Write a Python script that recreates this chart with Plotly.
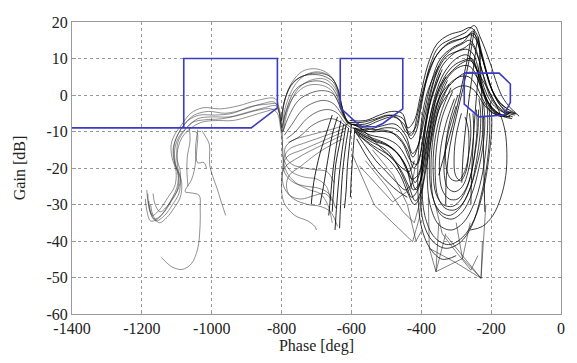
import plotly.graph_objects as go

# ---------------- axis ticks ----------------
phase_ticks = [-1400, -1200, -1000, -800, -600, -400, -200, 0]
gain_ticks = [-60, -50, -40, -30, -20, -10, 0, 10, 20]

# ---------------- blue boundary lines (phase, gain) ----------------
bound_left = [(-1400, -9), (-887, -9), (-812, -3.5), (-812, 10), (-1080, 10), (-1080, -9)]
bound_mid = [(-632, -3.5), (-632, 10), (-453, 10), (-453, -3.8), (-510, -7.8), (-530, -8.7),
             (-570, -8.7), (-590, -7.2), (-632, -3.5)]
bound_right = [(-277, 6), (-177, 6), (-145, 3), (-145, -2), (-163, -5.5), (-235, -6),
               (-277, -2.5), (-277, 6)]

# ---------------- black response curves (phase, gain) ----------------
left_bundle = [
    [(-1183,-27),(-1178,-31.5),(-1165,-34),(-1140,-32.5),(-1115,-29),(-1098,-26),(-1095,-22),(-1108,-18),(-1110,-14.5),(-1098,-11),(-1078,-8),(-1050,-5.5),(-1010,-4.5),(-960,-5),(-910,-4),(-860,-2.5),(-820,-2),(-806,-5),(-800,-9),(-788,-3),(-760,3),(-725,5.8),(-690,6.3),(-660,5),(-640,2),(-628,-3),(-615,-7),(-600,-8)],
    [(-1180,-29),(-1175,-32),(-1160,-34.5),(-1135,-33),(-1112,-30),(-1094,-27),(-1090,-23),(-1103,-19),(-1106,-15),(-1094,-11.5),(-1072,-9),(-1040,-6.5),(-1000,-6),(-950,-6),(-900,-4.8),(-850,-3.5),(-815,-3),(-803,-7),(-797,-10),(-782,-4),(-750,2),(-712,4.2),(-675,4.3),(-648,2),(-630,-2.5),(-615,-6.5),(-602,-8)],
    [(-1186,-26),(-1181,-30),(-1170,-33),(-1150,-31.5),(-1125,-28),(-1106,-25),(-1102,-21),(-1114,-17),(-1116,-13.5),(-1104,-10.5),(-1085,-8),(-1060,-5),(-1025,-3.5),(-975,-3.8),(-925,-3),(-870,-1.5),(-818,-1),(-806,-4),(-800,-7),(-792,-2),(-770,3.5),(-740,6.5),(-705,7.2),(-672,6.2),(-650,4),(-634,0),(-622,-5),(-608,-8)],
    [(-1175,-30),(-1168,-33),(-1150,-35),(-1128,-33.5),(-1108,-31),(-1090,-28),(-1086,-24),(-1097,-20),(-1099,-16),(-1087,-12),(-1065,-9.5),(-1030,-7.5),(-990,-7),(-940,-7),(-890,-5.8),(-845,-4.5),(-812,-4),(-801,-8),(-797,-12),(-798,-16),(-786,-21),(-760,-24),(-720,-26),(-690,-27),(-668,-30),(-655,-35)],
    [(-1168,-27),(-1162,-30),(-1148,-32),(-1128,-30.5),(-1110,-28),(-1093,-25),(-1090,-21),(-1099,-17.5),(-1097,-13),(-1080,-10),(-1055,-7.5),(-1020,-6.8),(-970,-6.5),(-920,-5.5),(-870,-4.2),(-830,-3.8),(-812,-5),(-803,-9),(-798,-13),(-792,-18),(-772,-21),(-735,-22.5),(-700,-23),(-672,-25),(-660,-29)],
    [(-1190,-28.5),(-1186,-31.5),(-1175,-34.5),(-1155,-34),(-1130,-31),(-1112,-28),(-1100,-25.5),(-1096,-22),(-1106,-18.5),(-1108,-14),(-1092,-10),(-1068,-7),(-1035,-5.5),(-990,-5.5),(-940,-5),(-890,-3.2),(-840,-2.5),(-814,-2.5),(-805,-6),(-799,-10),(-788,-5),(-762,0),(-728,2.5),(-692,2.8),(-660,1.5),(-640,-1.5),(-625,-5.5),(-607,-8)],
]

left_singles = [
    [(-1040,-9.5),(-1046,-14),(-1047,-19),(-1057,-23),(-1076,-26.5),(-1060,-26.8),(-1036,-27.5),(-1033,-31),(-1034,-37),(-1040,-42),(-1058,-46.2),(-1085,-47.8),(-1115,-47),(-1144,-44.5)],
    [(-1028,-9.8),(-1020,-11),(-1007,-13.5),(-1006,-19),(-998,-22),(-985,-25.5),(-972,-29.5),(-960,-33)],
    [(-1064,-9),(-1062,-12.5),(-1070,-17),(-1071,-21),(-1068,-25)],
    [(-1048,-10),(-1041,-10.5),(-1041,-18.5),(-1022,-18.5),(-1015,-20)],
]

dome_curves = [
    [(-800,-7),(-790,-1),(-765,3.5),(-730,5.5),(-695,6),(-660,5),(-640,2),(-628,-3),(-615,-7),(-600,-8)],
    [(-798,-9),(-786,-4),(-760,1.5),(-725,3.5),(-690,3.8),(-660,2.5),(-640,-0.5),(-625,-5),(-605,-8)],
    [(-796,-10),(-780,-6),(-752,-1.5),(-718,0.5),(-685,1.2),(-655,0.5),(-635,-2.5),(-620,-6),(-600,-8.5)],
    [(-792,-11),(-770,-8),(-740,-4),(-705,-2),(-675,-1.5),(-650,-2.5),(-630,-5),(-610,-8)],
    [(-786,-12),(-760,-10),(-728,-6.5),(-695,-4.5),(-665,-4),(-640,-5),(-620,-7.5),(-600,-9)],
    [(-780,-13),(-750,-11.5),(-715,-8.5),(-685,-7),(-655,-6.5),(-630,-7.5),(-610,-9)],
    [(-802,-8),(-795,-3),(-775,2.5),(-745,5),(-712,5.6),(-680,5.2),(-652,3.5),(-636,0),(-625,-4),(-612,-7.5)],
]

arc_curves = [
    [(-610,-8),(-660,-9.5),(-720,-11),(-770,-12.5),(-790,-14.5),(-788,-17),(-770,-19),(-735,-20),(-700,-20.5),(-670,-21),(-650,-24)],
    [(-615,-9),(-670,-11),(-730,-13),(-780,-15),(-795,-18),(-790,-21.5),(-765,-24),(-730,-25),(-695,-25.5),(-665,-27),(-645,-31)],
    [(-620,-10),(-680,-12.5),(-740,-15),(-785,-17),(-798,-21),(-792,-25.5),(-765,-28.5),(-725,-30),(-690,-30.5),(-660,-32),(-640,-36)],
    [(-625,-11),(-690,-14),(-750,-17),(-792,-20),(-800,-25),(-793,-29.5),(-762,-33),(-725,-34.5),(-705,-36),(-700,-37)],
    [(-625,-12),(-690,-15.5),(-745,-19.5),(-778,-22),(-786,-25),(-776,-27.5),(-745,-28.5),(-705,-27.5),(-675,-27),(-655,-29)],
]

drop_curves = [
    [(-600,-8),(-605,-13),(-612,-20),(-615,-26),(-620,-31)],
    [(-615,-8),(-625,-14),(-635,-22),(-642,-30),(-647,-37)],
    [(-630,-7),(-640,-12),(-652,-20),(-660,-28),(-665,-33)],
    [(-590,-9),(-595,-15),(-600,-22),(-603,-28)],
    [(-640,-6),(-655,-11),(-668,-18),(-680,-25),(-690,-30)],
    [(-655,-5.5),(-670,-10),(-690,-16),(-708,-24),(-715,-30)],
    [(-608,-9),(-618,-15),(-626,-22),(-631,-30),(-634,-36.5)],
    [(-622,-8),(-633,-13),(-645,-19),(-651,-26),(-655,-32)],
]

main_loops = [
    [(-600,-8),(-560,-8.5),(-520,-7),(-480,-6),(-450,-8),(-430,-12),(-415,-10),(-400,-3),(-377,7.5),(-349,13.3),(-310,15.5),(-275,17),(-248,19),(-232,16),(-215,12),(-200,8),(-187,4),(-168,-0.5),(-145,-3.5),(-120,-5.8)],
    [(-598,-9),(-555,-9.5),(-515,-8.5),(-475,-8),(-445,-11),(-425,-16),(-410,-14),(-392,-5),(-370,4),(-345,10),(-310,13),(-280,14.5),(-255,17),(-240,15.5),(-225,10),(-210,5),(-195,1),(-175,-2),(-150,-4),(-130,-5)],
    [(-595,-8),(-550,-10),(-505,-10),(-470,-11),(-440,-15),(-422,-20),(-405,-17),(-388,-8),(-365,1.5),(-340,8),(-305,11.5),(-275,13),(-258,14),(-240,11),(-222,5),(-205,0),(-185,-3),(-160,-5),(-138,-6)],
    [(-590,-9),(-545,-11),(-500,-12),(-465,-14),(-435,-19),(-418,-24),(-400,-20),(-383,-10),(-360,0),(-335,6),(-300,10),(-270,11),(-250,9),(-232,4),(-215,-1),(-195,-4),(-170,-5.5),(-145,-6)],
    [(-605,-7),(-560,-7),(-520,-5.5),(-485,-4.5),(-455,-5),(-438,-9),(-420,-7),(-402,0),(-382,8),(-355,14),(-320,16.5),(-285,17.5),(-260,18.5),(-243,17),(-228,12),(-212,6),(-198,1.5),(-180,-2),(-158,-4.5),(-135,-5)],
    [(-585,-10),(-540,-12.5),(-495,-14),(-460,-17),(-432,-22),(-415,-26),(-397,-22),(-380,-13),(-356,-3),(-330,4),(-295,7.5),(-265,8),(-245,6),(-228,1.5),(-210,-2.5),(-188,-5),(-162,-6),(-140,-6.5)],
    [(-600,-8),(-565,-9),(-530,-9.5),(-490,-10),(-455,-13),(-430,-18),(-412,-19),(-396,-12),(-378,-2),(-356,6),(-328,10.5),(-295,12),(-268,12.5),(-250,11),(-236,7),(-220,2),(-200,-2),(-178,-4),(-155,-5),(-142,-4.5)],
    [(-594,-9),(-548,-11.5),(-508,-13),(-472,-15.5),(-446,-19),(-428,-23),(-410,-22),(-393,-15),(-372,-5),(-348,2),(-318,6),(-288,8.5),(-262,9.5),(-246,8),(-230,3),(-212,-1.5),(-192,-4),(-168,-5.5),(-148,-5)],
    [(-610,-7.5),(-570,-7.5),(-530,-6.5),(-495,-5.5),(-465,-6.5),(-445,-10),(-428,-11),(-410,-5),(-390,3),(-362,10),(-330,13.5),(-296,15),(-270,16),(-252,17.5),(-238,14),(-222,9),(-205,3),(-190,0),(-172,-2.5),(-150,-4)],
    [(-588,-9.5),(-545,-10),(-505,-9),(-468,-9.5),(-442,-13),(-424,-17),(-406,-13),(-390,-6),(-368,3),(-342,9.5),(-312,12.5),(-283,14),(-262,15),(-246,13),(-230,8),(-214,3),(-196,-1),(-176,-3.5),(-152,-5),(-132,-5.5)],
    [(-590,-10),(-540,-13),(-500,-15),(-470,-19),(-445,-24),(-428,-28),(-410,-26),(-392,-18),(-372,-8),(-350,-1),(-320,3),(-290,5),(-265,5),(-245,3),(-225,-1),(-205,-4),(-180,-5.5),(-155,-5.5)],
    [(-580,-11),(-530,-15),(-490,-18),(-460,-22),(-438,-27),(-420,-30),(-404,-28),(-386,-20),(-366,-10),(-345,-3),(-315,1),(-285,2.5),(-258,2),(-238,0),(-218,-3),(-195,-5),(-170,-6)],
    [(-603,-8),(-562,-8),(-522,-6.5),(-483,-5.5),(-452,-6.5),(-434,-10.5),(-417,-9),(-398,-1),(-378,6),(-352,11.5),(-318,14.5),(-282,15.5),(-257,16.5),(-242,15),(-226,10.5),(-210,5),(-194,0.5),(-176,-2.5),(-152,-4.5),(-128,-5.2)],
    [(-592,-9.5),(-546,-12),(-502,-13.5),(-468,-16),(-440,-21),(-423,-26),(-405,-24),(-388,-15),(-366,-4),(-342,3.5),(-308,8),(-278,9.5),(-255,10),(-240,7),(-224,2),(-206,-2.5),(-185,-5),(-160,-6)],
    [(-586,-10.5),(-536,-14),(-494,-16.5),(-462,-20),(-436,-25),(-417,-29),(-400,-26),(-384,-17),(-362,-7),(-338,0),(-305,4),(-275,6),(-250,6),(-232,3),(-214,-1),(-192,-4),(-168,-5.5),(-146,-6)],
]

oval_curves = [
    [(-330,5),(-360,-2),(-378,-12),(-383,-22),(-375,-30),(-350,-35.5),(-315,-37),(-280,-35),(-250,-30),(-228,-23),(-215,-15),(-210,-8),(-212,-3),(-220,0)],
    [(-320,3),(-350,-4),(-368,-13),(-372,-22),(-364,-29),(-342,-33),(-312,-34),(-282,-32),(-255,-27),(-235,-20),(-222,-13),(-218,-7),(-222,-2)],
    [(-310,1),(-340,-6),(-356,-14),(-360,-22),(-352,-28),(-332,-31),(-305,-31.5),(-280,-29.5),(-258,-25),(-242,-18),(-232,-11),(-230,-5),(-235,-1)],
    [(-305,-1),(-330,-8),(-345,-15),(-348,-21),(-340,-26),(-320,-28.5),(-296,-28.5),(-274,-26),(-256,-21),(-246,-15),(-240,-9),(-242,-4)],
    [(-300,-3),(-322,-10),(-333,-16),(-334,-22),(-324,-25.5),(-304,-26.5),(-282,-25),(-266,-21),(-256,-16),(-250,-10),(-252,-5)],
    [(-340,7),(-372,-1),(-392,-12),(-398,-24),(-390,-33),(-362,-39),(-322,-41),(-282,-39),(-248,-34),(-222,-26),(-205,-16),(-198,-8),(-202,-2)],
    [(-260,10),(-230,5),(-200,0),(-175,-5),(-160,-10),(-155,-16),(-158,-22),(-172,-28),(-195,-33),(-225,-36),(-260,-37)],
    [(-350,8),(-385,0),(-405,-12),(-410,-25),(-400,-36),(-375,-42),(-340,-45),(-300,-44)],
    [(-285,-5),(-300,-11),(-306,-17),(-302,-22),(-288,-23.5),(-272,-21),(-264,-15),(-266,-9),(-275,-6)],
    [(-345,6),(-376,-3),(-394,-14),(-402,-26),(-394,-35),(-368,-40),(-330,-42),(-290,-40.5),(-256,-36),(-230,-28),(-212,-19),(-204,-10),(-206,-3)],
    [(-325,4),(-355,-3),(-372,-12),(-377,-20),(-370,-27),(-350,-31.5),(-320,-33),(-290,-31),(-262,-26),(-240,-19),(-226,-12),(-222,-6)],
    [(-315,2),(-344,-5),(-362,-13),(-366,-21),(-358,-27),(-338,-30),(-310,-30.5),(-286,-28.5),(-264,-24),(-248,-17),(-238,-10),(-236,-4)],
    [(-295,0),(-318,-7),(-330,-14),(-328,-20),(-315,-23),(-295,-23.5),(-276,-21),(-264,-16),(-258,-10),(-262,-5)],
]

interior_curves = [
    [(-248,18),(-262,10),(-280,2),(-300,-6),(-318,-14),(-328,-22),(-330,-30)],
    [(-240,15),(-250,8),(-262,0),(-272,-8),(-280,-16),(-284,-24)],
    [(-236,16),(-232,10),(-228,2),(-224,-6),(-222,-15),(-220,-24),(-218,-32)],
    [(-255,17),(-270,9),(-290,0),(-310,-8),(-330,-15),(-350,-22)],
    [(-230,12),(-238,4),(-246,-5),(-252,-14),(-256,-22),(-258,-30)],
    [(-585,-12),(-555,-17),(-525,-21),(-495,-24),(-465,-26.5),(-440,-28)],
    [(-590,-10),(-560,-14),(-530,-18),(-500,-21),(-470,-24),(-445,-26),(-425,-24)],
    [(-575,-9),(-540,-12),(-510,-15),(-480,-17.5),(-455,-20),(-435,-21),(-420,-18)],
]

straight_segments = [
    [(-380,-28),(-377,-42),(-358,-48.4),(-330,-38)],
    [(-350,-35),(-358,-48.4),(-282,-44.8),(-260,-35)],
    [(-300,-35),(-282,-44.8),(-229,-50.2),(-215,-30)],
    [(-377,-42),(-300,-46),(-229,-50.2),(-225,-40)],
    [(-330,-38.4),(-265,-46),(-229,-50.2)],
    [(-360,-30),(-340,-38),(-300,-43),(-258,-48),(-238,-44)],
    [(-596,-16.6),(-534,-30.2),(-425,-40.2),(-406,-33.9),(-395,-25)],
    [(-577,-19.4),(-482,-29.3),(-430,-25.7),(-418,-20)],
    [(-560,-18),(-500,-25),(-452,-32),(-420,-35),(-400,-28)],
    [(-540,-15),(-480,-22),(-440,-30),(-415,-40),(-398,-37)],
]

fig = go.Figure()


def add_curves(curves, color, width, shape):
    for c in curves:
        fig.add_trace(go.Scatter(
            x=[p for p, _ in c], y=[g for _, g in c], mode="lines",
            line=dict(color=color, width=width, shape=shape),
            showlegend=False, hoverinfo="skip"))


add_curves(left_bundle, "rgba(50,50,50,0.6)", 0.9, "spline")
add_curves(left_singles, "rgba(50,50,50,0.6)", 0.9, "spline")
add_curves(arc_curves, "rgba(40,40,40,0.6)", 0.9, "spline")
add_curves(dome_curves, "rgba(20,20,20,0.7)", 0.9, "spline")
add_curves(drop_curves, "rgba(0,0,0,0.85)", 1.0, "spline")
add_curves(main_loops, "rgba(0,0,0,0.8)", 1.0, "spline")
add_curves(oval_curves, "rgba(0,0,0,0.75)", 1.0, "spline")
add_curves(interior_curves, "rgba(0,0,0,0.8)", 1.0, "spline")
add_curves(straight_segments, "rgba(30,30,30,0.7)", 0.8, "linear")

for b in (bound_left, bound_mid, bound_right):
    fig.add_trace(go.Scatter(
        x=[p for p, _ in b], y=[g for _, g in b], mode="lines",
        line=dict(color="#3b3bc4", width=1.6),
        showlegend=False, hoverinfo="skip"))

axis_common = dict(
    showgrid=True, gridcolor="#999999", griddash="dot", gridwidth=1,
    showline=True, linecolor="#9a9a9a", linewidth=1, mirror=True,
    ticks="inside", ticklen=4, tickcolor="#9a9a9a", zeroline=False,
    tickfont=dict(family="Liberation Serif", size=16, color="#222"),
)

fig.update_layout(
    width=577, height=363,
    margin=dict(l=72, r=15, t=22, b=47),
    paper_bgcolor="white", plot_bgcolor="white",
    font=dict(family="Liberation Serif", size=16, color="#222"),
    xaxis=dict(range=[-1400, 0], tickvals=phase_ticks,
               ticktext=[str(v) for v in phase_ticks],
               title=dict(text="Phase [deg]", standoff=3,
                          font=dict(family="Liberation Serif", size=16)),
               **axis_common),
    yaxis=dict(range=[-60, 20], tickvals=gain_ticks,
               ticktext=[str(v) for v in gain_ticks],
               title=dict(text="Gain [dB]", standoff=16,
                          font=dict(family="Liberation Serif", size=16)),
               **axis_common),
)

fig.write_html("out.html")
